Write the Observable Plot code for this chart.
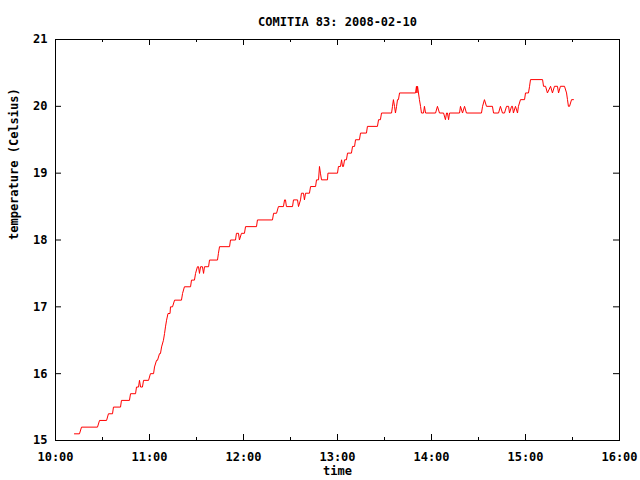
<!DOCTYPE html>
<html><head><meta charset="utf-8">
<script src="https://cdn.jsdelivr.net/npm/d3@7"></script>
<script src="https://cdn.jsdelivr.net/npm/@observablehq/plot@0.6"></script>
<style>html,body{margin:0;padding:0;background:#fff} svg{display:block}</style>
</head><body><div id="chart"></div>
<script>
const title = "COMITIA 83: 2008-02-10";
const xLabel = "time";
const yLabel = "temperature (Celsius)";
const xTicks = [10, 11, 12, 13, 14, 15, 16];
const xTickLabels = ["10:00", "11:00", "12:00", "13:00", "14:00", "15:00", "16:00"];
const xMinorTicks = [10.5, 11.5, 12.5, 13.5, 14.5, 15.5];
const yTicks = [15, 16, 17, 18, 19, 20, 21];

// minutes after 10:00
const minutesAfter10 = [
  12.1, 15.3, 16.6, 26.8, 28.1, 32.6, 33.8, 36.4, 37.0, 41.5, 42.1, 47.2, 47.9, 51.1, 51.7, 53.0, 53.6, 54.3, 55.5, 56.2,
  59.4, 60.6, 62.6, 63.2, 64.5, 65.1, 66.4, 67.0, 67.7, 68.9, 69.6, 70.2, 70.9, 71.8, 73.1, 73.4, 74.7, 76.0, 80.4, 81.1,
  82.3, 86.2, 86.8, 88.7, 89.4, 90.6, 91.3, 91.9, 92.6, 93.8, 94.5, 95.1, 97.7, 98.3, 103.4, 104.0, 104.7, 111.1, 111.7, 114.9,
  115.5, 116.8, 117.4, 118.7, 120.6, 121.3, 128.3, 128.9, 138.5, 139.2, 141.1, 142.3, 145.5, 146.2, 146.8, 147.4, 151.3, 151.9, 154.5, 155.1,
  156.4, 157.0, 158.3, 158.9, 159.6, 162.1, 162.8, 166.0, 166.6, 167.9, 168.5, 169.1, 169.8, 173.6, 173.9, 180.0, 180.6, 181.9, 182.6, 183.2,
  183.8, 184.5, 185.7, 186.4, 188.9, 189.6, 190.9, 191.5, 194.0, 194.7, 198.5, 199.1, 205.5, 206.2, 207.4, 208.1, 214.5, 215.1, 215.7, 216.4,
  217.0, 217.7, 218.3, 218.9, 219.6, 229.8, 230.4, 230.7, 231.1, 231.7, 232.3, 233.0, 233.6, 234.9, 235.5, 236.2, 242.6, 243.8, 245.1, 247.7,
  248.9, 249.6, 250.2, 250.9, 251.5, 257.9, 258.5, 259.8, 261.1, 262.3, 271.9, 272.6, 273.8, 275.1, 278.9, 279.6, 282.8, 284.0, 285.3, 286.6,
  287.9, 289.2, 289.8, 291.1, 291.7, 292.3, 293.6, 294.9, 295.5, 296.8, 299.4, 300.0, 301.9, 302.6, 303.2, 310.9, 311.5, 312.8, 314.0, 316.0,
  317.2, 318.5, 320.4, 321.1, 322.3, 324.9, 326.2, 326.8, 327.4, 328.1, 329.4, 330.6
];
const temperature = [
  15.1, 15.1, 15.2, 15.2, 15.3, 15.3, 15.4, 15.4, 15.5, 15.5, 15.6, 15.6, 15.7, 15.7, 15.8, 15.8, 15.9, 15.8, 15.8, 15.9,
  15.9, 16.0, 16.0, 16.1, 16.2, 16.2, 16.3, 16.3, 16.4, 16.5, 16.6, 16.7, 16.8, 16.9, 16.9, 17.0, 17.0, 17.1, 17.1, 17.2,
  17.3, 17.3, 17.4, 17.4, 17.5, 17.6, 17.6, 17.5, 17.6, 17.6, 17.5, 17.6, 17.6, 17.7, 17.7, 17.8, 17.9, 17.9, 18.0, 18.0,
  18.1, 18.1, 18.0, 18.1, 18.1, 18.2, 18.2, 18.3, 18.3, 18.4, 18.4, 18.5, 18.5, 18.6, 18.6, 18.5, 18.5, 18.6, 18.6, 18.5,
  18.6, 18.7, 18.7, 18.6, 18.7, 18.7, 18.8, 18.8, 18.9, 18.9, 19.1, 19.0, 18.9, 18.9, 19.0, 19.0, 19.1, 19.1, 19.2, 19.1,
  19.1, 19.2, 19.2, 19.3, 19.3, 19.4, 19.4, 19.5, 19.5, 19.6, 19.6, 19.7, 19.7, 19.8, 19.8, 19.9, 19.9, 20.0, 20.1, 20.0,
  19.9, 20.0, 20.1, 20.1, 20.2, 20.2, 20.3, 20.2, 20.3, 20.2, 20.1, 20.0, 19.9, 19.9, 20.0, 19.9, 19.9, 20.0, 19.9, 19.9,
  19.8, 19.9, 19.9, 19.8, 19.9, 19.9, 20.0, 19.9, 20.0, 19.9, 19.9, 20.0, 20.1, 20.0, 20.0, 19.9, 19.9, 20.0, 19.9, 19.9,
  20.0, 20.0, 19.9, 20.0, 20.0, 19.9, 20.0, 19.9, 20.0, 20.1, 20.1, 20.2, 20.2, 20.3, 20.4, 20.4, 20.3, 20.3, 20.2, 20.3,
  20.2, 20.3, 20.3, 20.2, 20.3, 20.3, 20.2, 20.1, 20.0, 20.0, 20.1, 20.1
];

const data = minutesAfter10.map((m, i) => ({hour: 10 + m / 60, temp: temperature[i]}));

const W = 640, H = 480, mL = 55, mR = 21, mT = 39, mB = 40;
const plotW = W - mL - mR, plotH = H - mT - mB;

const chart = Plot.plot({
  width: W, height: H,
  marginLeft: mL, marginRight: mR, marginTop: mT, marginBottom: mB,
  style: {fontFamily: "'DejaVu Sans Mono', monospace", fontSize: "12px", fontWeight: "bold", background: "#fff", color: "#000"},
  x: {domain: [10, 16], axis: null},
  y: {domain: [15, 21], axis: null},
  marks: [
    Plot.line(data, {x: "hour", y: "temp", stroke: "#ff0000", strokeWidth: 1}),
    Plot.tickY(yTicks, {stroke: "#000", insetRight: plotW - 6}),
    Plot.tickY(yTicks, {stroke: "#000", insetLeft: plotW - 6}),
    Plot.tickX(xTicks, {stroke: "#000", insetTop: plotH - 6}),
    Plot.tickX(xTicks, {stroke: "#000", insetBottom: plotH - 6}),
    Plot.tickX(xMinorTicks, {stroke: "#000", insetTop: plotH - 3}),
    Plot.tickX(xMinorTicks, {stroke: "#000", insetBottom: plotH - 3}),
    Plot.frame({stroke: "#000"}),
    Plot.axisX(xTicks, {tickSize: 0, tickPadding: 12, label: null, tickFormat: d => xTickLabels[xTicks.indexOf(d)], fontWeight: "bold"}),
    Plot.axisY(yTicks, {tickSize: 0, tickPadding: 8, label: null, tickFormat: d => String(d), fontWeight: "bold"}),
    Plot.text([title], {text: d => d, frameAnchor: "top", dy: -22, fontWeight: "bold"}),
    Plot.text([xLabel], {text: d => d, frameAnchor: "bottom", dy: 34, fontWeight: "bold"}),
    Plot.text([yLabel], {text: d => d, frameAnchor: "left", dx: -41, rotate: -90, fontWeight: "bold"})
  ]
});
document.getElementById("chart").appendChild(chart);
</script>
</body></html>
